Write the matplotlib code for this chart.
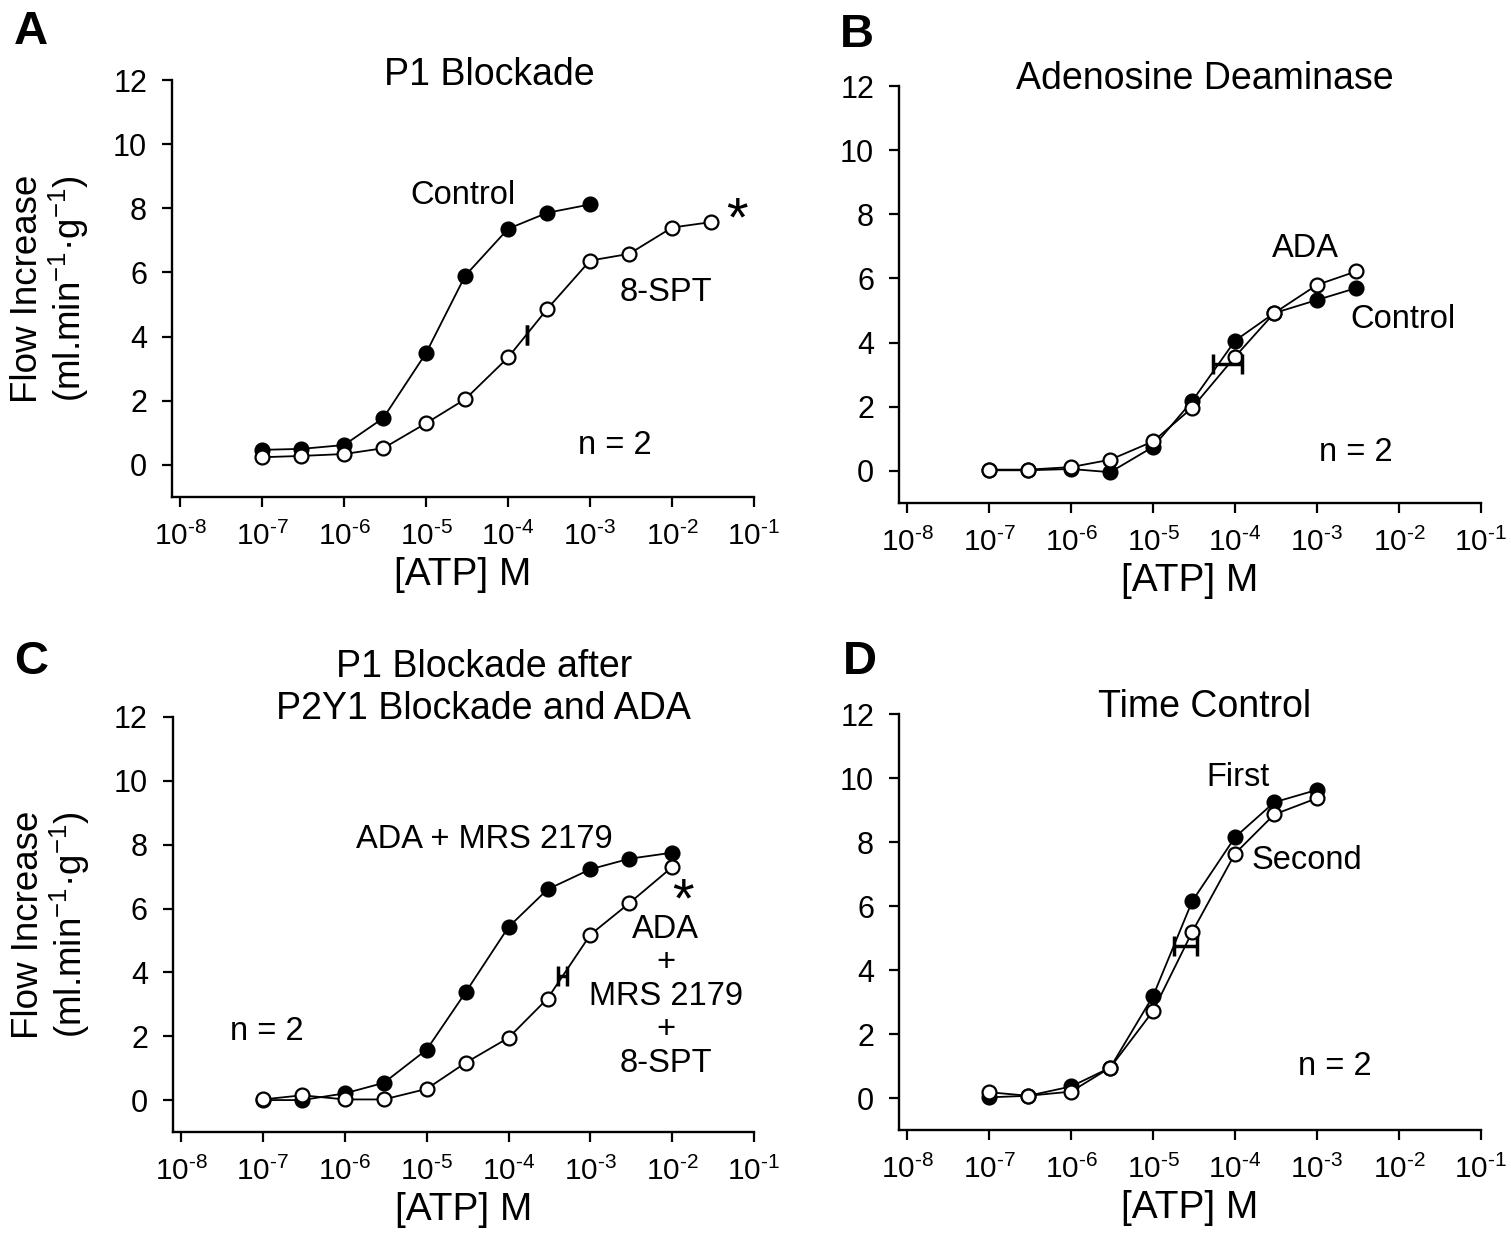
import numpy as np
import matplotlib.pyplot as plt
from matplotlib.ticker import FixedLocator, NullLocator, FuncFormatter

plt.rcParams["font.family"] = ["Liberation Sans", "DejaVu Sans"]
plt.rcParams["mathtext.fontset"] = "custom"
plt.rcParams["mathtext.rm"] = "Liberation Sans"
plt.rcParams["mathtext.it"] = "Liberation Sans:italic"
plt.rcParams["mathtext.bf"] = "Liberation Sans:bold"

# ---- data ----
atp = [1e-7, 3e-7, 1e-6, 3e-6, 1e-5, 3e-5, 1e-4, 3e-4, 1e-3, 3e-3, 1e-2, 3e-2]

# A: P1 blockade
a_control = [0.47, 0.50, 0.62, 1.46, 3.49, 5.90, 7.36, 7.86, 8.12]
a_spt = [0.24, 0.28, 0.34, 0.52, 1.30, 2.05, 3.35, 4.86, 6.37, 6.58, 7.40, 7.57]
a_ec50 = (10 ** -3.77, 4.06, 0.004)   # x, y, half width (decades)

# B: adenosine deaminase
b_control = [0.02, 0.02, 0.06, -0.04, 0.75, 2.18, 4.06, 4.92, 5.33, 5.70]
b_ada = [0.04, 0.04, 0.12, 0.35, 0.92, 1.97, 3.56, 4.92, 5.80, 6.22]
b_ec50 = (10 ** -4.09, 3.32, 0.18)

# C: P1 blockade after P2Y1 blockade and ADA
c_ada_mrs = [0.0, 0.0, 0.21, 0.54, 1.58, 3.38, 5.42, 6.60, 7.23, 7.56, 7.75]
c_ada_mrs_spt = [0.02, 0.15, 0.02, 0.02, 0.35, 1.17, 1.95, 3.18, 5.18, 6.17, 7.30]
c_ec50 = (10 ** -3.34, 3.90, 0.05)

# D: time control
d_first = [0.02, 0.07, 0.36, 0.95, 3.19, 6.15, 8.15, 9.24, 9.63]
d_second = [0.18, 0.07, 0.20, 0.95, 2.72, 5.19, 7.64, 8.86, 9.37]
d_ec50 = (10 ** -4.61, 4.75, 0.14)

yticks = [0, 2, 4, 6, 8, 10, 12]
xticks = [1e-8, 1e-7, 1e-6, 1e-5, 1e-4, 1e-3, 1e-2, 1e-1]

W, H = 1511, 1248
fig = plt.figure(figsize=(W / 100, H / 100), dpi=100)

TXT = 23.5   # in-plot annotations
TITLE = 27


def make_axes(x0, x1, y0, y1):
    # pixel box -> figure fraction
    return fig.add_axes([x0 / W, (H - y1) / H, (x1 - x0) / W, (y1 - y0) / H])


def pow_label(v, pos):
    e = int(round(np.log10(v)))
    return r"$10^{\text{%d}}$" % e


def style(ax, ylabel=True):
    ax.set_xscale("log")
    ax.set_xlim(10 ** -8.1, 1e-1)
    ax.set_ylim(-1, 12)
    ax.xaxis.set_major_locator(FixedLocator(xticks))
    ax.xaxis.set_minor_locator(NullLocator())
    ax.xaxis.set_major_formatter(FuncFormatter(pow_label))
    ax.set_yticks(yticks)
    for s in ["top", "right"]:
        ax.spines[s].set_visible(False)
    for s in ["left", "bottom"]:
        ax.spines[s].set_linewidth(1.7)
    ax.tick_params(axis="x", direction="out", length=7, width=1.6, labelsize=21.5, pad=11)
    ax.tick_params(axis="y", direction="out", length=7, width=1.6, labelsize=22, pad=11)
    ax.set_xlabel("[ATP] M", fontsize=28, labelpad=4)
    if ylabel:
        ax.set_ylabel("Flow Increase\n(ml.min$^{-1}$·g$^{-1}$)", fontsize=26.5,
                      linespacing=1.05)
        ax.yaxis.set_label_coords(-0.14, 0.5)


def curves(ax, filled, opened, ec50):
    ax.plot(atp[:len(filled)], filled, color="black", lw=1.3, marker="o",
            ms=10, mfc="black", mec="black", mew=1.6, zorder=3)
    ax.plot(atp[:len(opened)], opened, color="black", lw=1.3, marker="o",
            ms=10, mfc="white", mec="black", mew=1.6, zorder=4)
    x, y, hw = ec50
    ax.errorbar([x], [y], xerr=[[x - x * 10 ** -hw], [x * 10 ** hw - x]],
                fmt="none", ecolor="black", elinewidth=2.5, capsize=7,
                capthick=2.5, zorder=5)


# ---- A ----
axA = make_axes(172, 754, 80, 497)
style(axA)
curves(axA, a_control, a_spt, a_ec50)
axA.text(10 ** -4.545, 8.39, "Control", fontsize=TXT, ha="center", va="center")
axA.text(10 ** -2.08, 5.36, "8-SPT", fontsize=TXT, ha="center", va="center")
axA.text(10 ** -2.7, 0.6, "n = 2", fontsize=TXT, ha="center", va="center")
axA.text(10 ** -1.21, 7.15, "*", fontsize=40, ha="center", va="baseline")
axA.text(0.545, 1.012, "P1 Blockade", transform=axA.transAxes, fontsize=TITLE,
         ha="center", va="center")

# ---- B ----
axB = make_axes(899, 1481, 86, 503)
style(axB, ylabel=False)
curves(axB, b_control, b_ada, b_ec50)
axB.text(10 ** -3.14, 6.92, "ADA", fontsize=TXT, ha="center", va="center")
axB.text(10 ** -1.95, 4.73, "Control", fontsize=TXT, ha="center", va="center")
axB.text(10 ** -2.53, 0.56, "n = 2", fontsize=TXT, ha="center", va="center")
axB.text(0.525, 1.017, "Adenosine Deaminase", transform=axB.transAxes,
         fontsize=TITLE, ha="center", va="center")

# ---- C ----
axC = make_axes(173, 754, 717, 1132)
style(axC)
curves(axC, c_ada_mrs, c_ada_mrs_spt, c_ec50)
axC.text(10 ** -4.3, 8.15, "ADA + MRS 2179", fontsize=TXT, ha="center", va="center")
axC.text(10 ** -2.08, 3.25, "ADA\n+\nMRS 2179\n+\n8-SPT", fontsize=TXT,
         ha="center", va="center", linespacing=1.1)
axC.text(10 ** -6.95, 2.16, "n = 2", fontsize=TXT, ha="center", va="center")
axC.text(10 ** -1.87, 5.75, "*", fontsize=40, ha="center", va="baseline")
axC.text(0.535, 1.07, "P1 Blockade after\nP2Y1 Blockade and ADA",
         transform=axC.transAxes, fontsize=TITLE, ha="center", va="center",
         linespacing=1.2)

# ---- D ----
axD = make_axes(899, 1481, 714, 1130)
style(axD, ylabel=False)
curves(axD, d_first, d_second, d_ec50)
axD.text(10 ** -3.96, 10.0, "First", fontsize=TXT, ha="center", va="center")
axD.text(10 ** -3.12, 7.42, "Second", fontsize=TXT, ha="center", va="center")
axD.text(10 ** -2.78, 0.99, "n = 2", fontsize=TXT, ha="center", va="center")
axD.text(0.525, 1.017, "Time Control", transform=axD.transAxes, fontsize=TITLE,
         ha="center", va="center")

# panel letters
for lbl, px, py in [("A", 31, 32), ("B", 857, 35), ("C", 31, 662), ("D", 860, 662)]:
    fig.text(px / W, 1 - py / H, lbl, fontsize=34, fontweight="bold",
             ha="center", va="center")

fig.savefig("out.png", dpi=100)
